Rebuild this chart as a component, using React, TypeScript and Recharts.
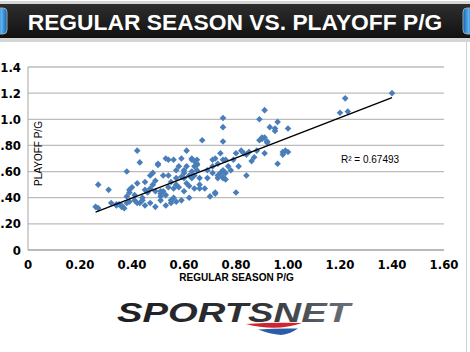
import React from "react";
import {
  CartesianGrid,
  Scatter,
  ScatterChart,
  XAxis,
  YAxis,
} from "recharts";

// regular season points per game (x) and playoff points per game (y)
const regularPG = [
  0.26, 0.27, 0.27, 0.31, 0.32, 0.34, 0.34, 0.35, 0.36, 0.36, 0.37, 0.38, 0.38, 0.39, 0.38,
  0.39, 0.39, 0.4, 0.41, 0.41, 0.42, 0.42, 0.43, 0.42, 0.43, 0.44, 0.44, 0.45, 0.45, 0.45,
  0.46, 0.47, 0.47, 0.48, 0.47, 0.48, 0.49, 0.49, 0.49, 0.5, 0.5, 0.51, 0.51, 0.51, 0.51,
  0.52, 0.52, 0.53, 0.53, 0.53, 0.54, 0.54, 0.54, 0.55, 0.55, 0.55, 0.56, 0.56, 0.56, 0.57,
  0.57, 0.57, 0.57, 0.58, 0.58, 0.59, 0.59, 0.59, 0.6, 0.6, 0.6, 0.6, 0.61, 0.61, 0.61,
  0.62, 0.62, 0.62, 0.63, 0.63, 0.63, 0.64, 0.64, 0.64, 0.65, 0.65, 0.65, 0.66, 0.66, 0.66,
  0.67, 0.68, 0.69, 0.69, 0.7, 0.71, 0.71, 0.71, 0.72, 0.72, 0.72, 0.73, 0.73, 0.73, 0.74,
  0.74, 0.75, 0.75, 0.75, 0.75, 0.75, 0.75, 0.75, 0.76, 0.76, 0.76, 0.77, 0.78, 0.79, 0.8,
  0.8, 0.81, 0.82, 0.83, 0.84, 0.84, 0.85, 0.86, 0.87, 0.88, 0.89, 0.9, 0.9, 0.91, 0.92,
  0.89, 0.91, 0.91, 0.92, 0.93, 0.95, 0.95, 0.96, 0.96, 0.98, 0.98, 0.99, 1.0, 1.0, 1.2,
  1.22, 1.23, 1.4, 0.63, 0.64, 0.65,
];
const playoffPG = [
  0.33, 0.32, 0.5, 0.46, 0.36, 0.35, 0.34, 0.35, 0.33, 0.34, 0.32, 0.36, 0.41, 0.44, 0.6,
  0.46, 0.37, 0.48, 0.38, 0.42, 0.36, 0.76, 0.67, 0.51, 0.36, 0.4, 0.38, 0.46, 0.52, 0.34,
  0.44, 0.47, 0.57, 0.59, 0.36, 0.5, 0.45, 0.33, 0.53, 0.66, 0.65, 0.43, 0.45, 0.38, 0.41,
  0.57, 0.45, 0.7, 0.34, 0.42, 0.48, 0.69, 0.57, 0.38, 0.52, 0.36, 0.47, 0.69, 0.4, 0.61,
  0.5, 0.37, 0.55, 0.64, 0.48, 0.56, 0.7, 0.38, 0.61, 0.45, 0.59, 0.55, 0.51, 0.76, 0.64,
  0.57, 0.49, 0.4, 0.6, 0.69, 0.55, 0.64, 0.47, 0.57, 0.66, 0.61, 0.69, 0.5, 0.47, 0.55,
  0.84, 0.47, 0.55, 0.61, 0.41, 0.64, 0.69, 0.59, 0.7, 0.43, 0.44, 0.55, 0.66, 0.57, 0.59,
  0.74, 0.83, 0.94, 1.01, 0.55, 0.61, 0.69, 0.56, 0.59, 0.54, 0.69, 0.64, 0.61, 0.69, 0.44,
  0.74, 0.64, 0.76, 0.74, 0.57, 0.73, 0.75, 0.68, 0.71, 0.76, 0.84, 0.85, 0.86, 0.86, 0.83,
  1.0, 1.07, 0.74, 0.82, 0.94, 0.93, 0.91, 0.98, 0.66, 0.73, 0.75, 0.76, 0.75, 0.93, 1.05,
  1.16, 1.06, 1.2, 0.7, 0.68, 0.65,
];

// excel linear trendline, end points
const trendX = [0.26, 1.4];
const trendY = [0.29, 1.166];
const rSquared = "0.67493";

const xTicks = [0, 0.2, 0.4, 0.6, 0.8, 1.0, 1.2, 1.4, 1.6];
const yTicks = [0, 0.2, 0.4, 0.6, 0.8, 1.0, 1.2, 1.4];

const points = regularPG.map((x, i) => ({ x, y: playoffPG[i] }));
const trend = trendX.map((x, i) => ({ x, y: trendY[i] }));

const BLUE = "#4A7EBB";
const tickFont = {
  fontFamily: "DejaVu Sans Condensed, Liberation Sans Narrow, sans-serif",
  fontWeight: 700,
  fontSize: 13,
  fill: "#000",
};

const fmtY = (v: number) => {
  if (v === 0) return "0";
  if (v >= 1) return v.toFixed(1);
  return v.toFixed(2).replace(/^0/, "");
};
const fmtX = (v: number) => (v === 0 ? "0" : v.toFixed(2));

const Diamond = (p: any) => {
  const { cx, cy } = p;
  const r = 3.3;
  return (
    <path
      d={`M${cx},${cy - r}L${cx + r},${cy}L${cx},${cy + r}L${cx - r},${cy}Z`}
      fill={BLUE}
    />
  );
};

const Overlay = () => (
  <svg
    width={470}
    height={352}
    style={{ position: "absolute", left: 0, top: 0, pointerEvents: "none" }}
  >
    <defs>
      <linearGradient id="bar" x1="0" y1="0" x2="0" y2="1">
        <stop offset="0" stopColor="#2e2e2e" />
        <stop offset="1" stopColor="#111" />
      </linearGradient>
      <linearGradient id="cap" x1="0" y1="0" x2="1" y2="0">
        <stop offset="0" stopColor="#0d5fae" />
        <stop offset="0.5" stopColor="#5fb2ee" />
        <stop offset="1" stopColor="#0d5fae" />
      </linearGradient>
      <linearGradient id="logo" x1="0" y1="0" x2="1" y2="0">
        <stop offset="0" stopColor="#1e1e20" />
        <stop offset="0.6" stopColor="#2f3236" />
        <stop offset="1" stopColor="#6b737c" />
      </linearGradient>
    </defs>

    {/* title banner */}
    <rect x={0} y={1} width={470} height={41} fill="#d6d6d6" />
    <rect x={0} y={4} width={470} height={34} fill="url(#bar)" />
    <rect x={-4} y={8} width={11} height={26} rx={4} fill="url(#cap)" stroke="#9aa" />
    <rect x={463} y={8} width={11} height={26} rx={4} fill="url(#cap)" stroke="#9aa" />
    <text
      x={235}
      y={29.5}
      textAnchor="middle"
      fill="#fff"
      style={{ fontFamily: "Liberation Sans, Arial, sans-serif", fontWeight: 700, fontSize: 22.8 }}
    >
      REGULAR SEASON VS. PLAYOFF P/G
    </text>

    {/* right frame line */}
    <line x1={466.5} y1={42} x2={466.5} y2={352} stroke="#cfcfcf" />

    {/* axis titles */}
    <text
      transform="translate(42,153.5) rotate(-90)"
      textAnchor="middle"
      style={{ fontFamily: "Liberation Sans, Arial, sans-serif", fontSize: 10 }}
    >
      PLAYOFF P/G
    </text>
    <text
      x={236.5}
      y={281}
      textAnchor="middle"
      style={{ fontFamily: "Liberation Sans, Arial, sans-serif", fontWeight: 700, fontSize: 10 }}
    >
      REGULAR SEASON P/G
    </text>

    {/* trendline label */}
    <text
      x={341}
      y={163}
      style={{ fontFamily: "Liberation Sans, Arial, sans-serif", fontSize: 10 }}
    >
      R² = {rSquared}
    </text>

    {/* logo */}
    <text
      x={117}
      y={322}
      textLength={233}
      lengthAdjust="spacingAndGlyphs"
      fill="url(#logo)"
      style={{
        fontFamily: "Liberation Sans, Arial, sans-serif",
        fontWeight: 900,
        fontStyle: "italic",
        fontSize: 27,
      }}
    >
      SPORTSNET
    </text>
    <path d="M246,324 Q274,322 302,323 Q276,332 246,324 Z" fill="#d0242f" />
    <path d="M258,329.5 Q278,328 298,328.5 Q290,334 281,335 Q270,334 258,329.5 Z" fill="#2a5da8" />
  </svg>
);

export default function App() {
  return (
    <div
      style={{
        position: "absolute",
        left: 0,
        top: 0,
        width: 470,
        height: 352,
        background: "#fff",
        overflow: "hidden",
      }}
    >
      <div style={{ position: "absolute", left: 0, top: 0 }}>
        <ScatterChart
          width={470}
          height={352}
          margin={{ top: 67, right: 26, bottom: 72, left: 0 }}
        >
          <CartesianGrid
            vertical={false}
            stroke="#bcbcbc"
            strokeWidth={1.3}
          />
          <XAxis
            type="number"
            dataKey="x"
            domain={[0, 1.6]}
            ticks={xTicks}
            tickFormatter={fmtX}
            height={30}
            tickLine={false}
            tickSize={8}
            tickMargin={2}
            axisLine={{ stroke: "#a6a6a6" }}
            tick={tickFont}
            interval={0}
          />
          <YAxis
            type="number"
            dataKey="y"
            domain={[0, 1.4]}
            ticks={yTicks}
            tickFormatter={fmtY}
            width={28}
            tickLine={false}
            tickSize={5}
            tickMargin={2}
            axisLine={{ stroke: "#a6a6a6" }}
            tick={tickFont}
            interval={0}
          />
          <Scatter
            data={points}
            shape={Diamond}
            isAnimationActive={false}
          />
          <Scatter
            data={trend}
            line={{ stroke: "#000", strokeWidth: 1.5 }}
            shape={() => <g />}
            isAnimationActive={false}
          />
        </ScatterChart>
      </div>
      <Overlay />
    </div>
  );
}
